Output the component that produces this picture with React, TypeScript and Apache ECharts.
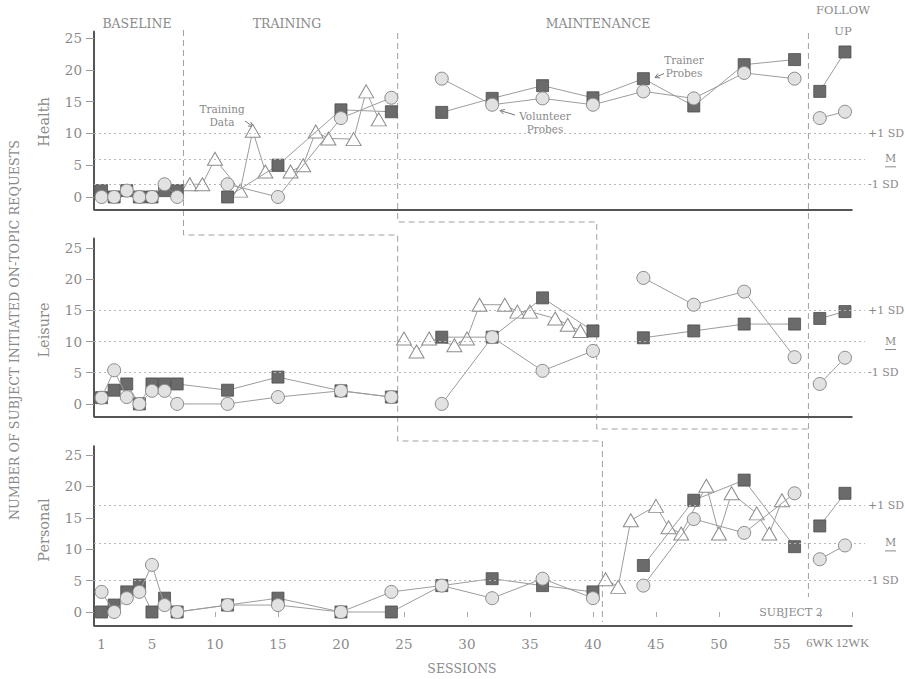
import React, { useEffect, useRef } from "react";
import * as echarts from "echarts";

// ---------------- data ----------------
const FU6 = 58; // 6-week follow-up position on the session axis
const FU12 = 60; // 12-week follow-up position
const FU12_TICK = 60.6;
const followSessions = [FU6, FU12];

const sessionTicks = [1, 5, 10, 15, 20, 25, 30, 35, 40, 45, 50, 55];
const followTickLabels = ["6WK", "12WK"];
const yTicks = [0, 5, 10, 15, 20, 25];
const sdLabels = ["+1 SD", "M", "-1 SD"];

// Health
const healthBaselineSessions = [1, 2, 3, 4, 5, 6, 7];
const healthBaselineTrainer = [1, 0, 1, 0, 0, 1, 1];
const healthBaselineVolunteer = [0, 0, 1, 0, 0, 2, 0];
const healthProbeSessions = [11, 15, 20, 24];
const healthProbeTrainer = [0, 5, 13.7, 13.4];
const healthProbeVolunteer = [2, 0, 12.4, 15.6];
const healthTrainingSessions = [8, 9, 10, 12, 13, 14, 16, 17, 18, 19, 21, 22, 23];
const healthTrainingData = [2, 2, 6, 1, 10.4, 4, 4, 5, 10.3, 9.2, 9.1, 16.6, 12.2];
const healthMaintSessions = [28, 32, 36, 40, 44, 48, 52, 56];
const healthMaintTrainer = [13.3, 15.5, 17.5, 15.6, 18.6, 14.3, 20.8, 21.6];
const healthMaintVolunteer = [18.6, 14.5, 15.5, 14.5, 16.6, 15.5, 19.5, 18.6];
const healthFollowTrainer = [16.6, 22.8];
const healthFollowVolunteer = [12.4, 13.4];
const healthSD = [10, 6, 2];

// Leisure
const leisureBaselineSessions = [1, 2, 3, 4, 5, 6, 7, 11, 15, 20, 24];
const leisureBaselineTrainer = [1, 2.2, 3.2, 0, 3.2, 3.2, 3.2, 2.2, 4.3, 2.1, 1.1];
const leisureBaselineVolunteer = [1, 5.4, 1.1, 0, 2.1, 2.1, 0, 0, 1.1, 2.1, 1.1];
const leisureProbeSessions = [28, 32, 36, 40];
const leisureProbeTrainer = [10.7, 10.7, 17, 11.7];
const leisureProbeVolunteer = [0, 10.7, 5.3, 8.5];
const leisureTrainingSessions = [25, 26, 27, 29, 30, 31, 33, 34, 35, 37, 38, 39];
const leisureTrainingData = [10.5, 8.4, 10.5, 9.4, 10.5, 15.9, 15.9, 14.8, 14.8, 13.7, 12.7, 11.7];
const leisureMaintSessions = [44, 48, 52, 56];
const leisureMaintTrainer = [10.6, 11.7, 12.8, 12.8];
const leisureMaintVolunteer = [20.2, 15.9, 18, 7.5];
const leisureFollowTrainer = [13.7, 14.8];
const leisureFollowVolunteer = [3.2, 7.4];
const leisureSD = [15, 10, 5];

// Personal
const personalBaselineSessions = [1, 2, 3, 4, 5, 6, 7, 11, 15, 20, 24, 28, 32, 36, 40];
const personalBaselineTrainer = [0, 1.1, 3.2, 4.3, 0, 2.2, 0, 1.1, 2.2, 0, 0, 4.2, 5.3, 4.2, 3.2];
const personalBaselineVolunteer = [3.2, 0, 2.2, 3.2, 7.5, 1.1, 0, 1.1, 1.1, 0, 3.2, 4.2, 2.2, 5.3, 2.2];
const personalProbeSessions = [44, 48, 52, 56];
const personalProbeTrainer = [7.4, 17.8, 21, 10.4];
const personalProbeVolunteer = [4.2, 14.8, 12.6, 18.9];
const personalTrainingSessions = [41, 42, 43, 45, 46, 47, 49, 50, 51, 53, 54, 55];
const personalTrainingData = [5.2, 4, 14.6, 16.9, 13.5, 12.5, 20.1, 12.5, 18.9, 15.7, 12.5, 17.8];
const personalFollowTrainer = [13.7, 18.9];
const personalFollowVolunteer = [8.4, 10.6];
const personalSD = [17, 11, 5];

// phase-change boundaries (in session units)
const B_BASE_TRAIN_H = 7.5;
const B_TRAIN_MAINT_H = 24.5;
const B_BASE_TRAIN_L = 24.5;
const B_TRAIN_MAINT_L = 40.3;
const B_BASE_TRAIN_P = 40.75;
const B_FOLLOW = 57.1;

// ---------------- layout / style ----------------
const FONT = '"DejaVu Serif", "Liberation Serif", serif';
const TEXT = "#8a8a8a";
const LINE = "#9c9c9c";
const X_MIN = 0.4;
const X_MAX = 61.59;
const AXIS_END = 60.6;
const GRID_LEFT = 94;
const GRID_WIDTH = 771;

const panels = [
  {
    name: "Health", top: 31.6, height: 178.1, ymin: -2, ymax: 26, sd: healthSD, labelY: 122,
    probePhases: [
      [healthBaselineSessions, healthBaselineTrainer, healthBaselineVolunteer],
      [healthProbeSessions, healthProbeTrainer, healthProbeVolunteer],
      [healthMaintSessions, healthMaintTrainer, healthMaintVolunteer],
      [followSessions, healthFollowTrainer, healthFollowVolunteer],
    ],
    training: [healthTrainingSessions, healthTrainingData],
  },
  {
    name: "Leisure", top: 238.6, height: 177.8, ymin: -2, ymax: 26.5, sd: leisureSD, labelY: 330,
    probePhases: [
      [leisureBaselineSessions, leisureBaselineTrainer, leisureBaselineVolunteer],
      [leisureProbeSessions, leisureProbeTrainer, leisureProbeVolunteer],
      [leisureMaintSessions, leisureMaintTrainer, leisureMaintVolunteer],
      [followSessions, leisureFollowTrainer, leisureFollowVolunteer],
    ],
    training: [leisureTrainingSessions, leisureTrainingData],
  },
  {
    name: "Personal", top: 446.2, height: 179.6, ymin: -2.2, ymax: 26.4, sd: personalSD, labelY: 530,
    probePhases: [
      [personalBaselineSessions, personalBaselineTrainer, personalBaselineVolunteer],
      [personalProbeSessions, personalProbeTrainer, personalProbeVolunteer],
      [followSessions, personalFollowTrainer, personalFollowVolunteer],
    ],
    training: [personalTrainingSessions, personalTrainingData],
  },
];

const squareStyle = {
  symbol: "rect", symbolSize: 12,
  itemStyle: { color: "#6b6b6b", borderColor: "#4d4d4d", borderWidth: 0.8 },
};
const circleStyle = {
  symbol: "circle", symbolSize: 13,
  itemStyle: { color: "#e2e2e2", borderColor: "#8a8a8a", borderWidth: 1 },
};
const triStyle = {
  symbol: "triangle", symbolSize: [15, 13],
  itemStyle: { color: "#ffffff", borderColor: "#8c8c8c", borderWidth: 1 },
};

function pairs(xs: number[], ys: number[]) {
  return xs.map((x, i) => [x, ys[i]]);
}

function lineSeries(gi: number, xs: number[], ys: number[], style: any, z: number, extra: any = {}) {
  return {
    type: "line", xAxisIndex: gi, yAxisIndex: gi, data: pairs(xs, ys),
    ...style, showSymbol: true, lineStyle: { color: LINE, width: 1 },
    z, silent: true, animation: false, emphasis: { disabled: true }, ...extra,
  };
}

function markLines(p: any) {
  const sdStyle = { color: "#b8b8b8", type: [2, 3], width: 1 };
  const lbl = (text: string, dist: number) => ({
    show: true, position: "end", formatter: text, color: TEXT, fontFamily: FONT, fontSize: 11, distance: dist,
  });
  return {
    silent: true, symbol: ["none", "none"], animation: false,
    data: [
      [{ coord: [X_MIN, p.ymin], lineStyle: { color: "#555", width: 2, type: "solid" }, label: { show: false } }, { coord: [AXIS_END, p.ymin] }],
      [{ coord: [X_MIN, p.sd[0]], lineStyle: sdStyle, label: lbl(sdLabels[0], 3) }, { coord: [X_MAX, p.sd[0]] }],
      [{ coord: [X_MIN, p.sd[1]], lineStyle: sdStyle, label: lbl(sdLabels[1], 20) }, { coord: [X_MAX, p.sd[1]] }],
      [{ coord: [X_MIN, p.sd[2]], lineStyle: sdStyle, label: lbl(sdLabels[2], 3) }, { coord: [X_MAX, p.sd[2]] }],
    ],
  };
}

function buildOption() {
  const grid: any[] = [];
  const xAxis: any[] = [];
  const yAxis: any[] = [];
  const series: any[] = [];

  panels.forEach((p, i) => {
    grid.push({ left: GRID_LEFT, width: GRID_WIDTH, top: p.top, height: p.height, outerBoundsMode: "none", containLabel: false });
    const isLast = i === panels.length - 1;
    xAxis.push({
      gridIndex: i, type: "value", min: X_MIN, max: X_MAX,
      axisLine: { show: false }, splitLine: { show: false },
      axisTick: {
        show: isLast, customValues: [...sessionTicks, FU6, FU12_TICK], length: 5,
        lineStyle: { color: "#aaa" },
      },
      axisLabel: {
        show: isLast, customValues: [...sessionTicks, FU6, FU12_TICK], margin: 11,
        color: TEXT, fontFamily: FONT, fontSize: 13.5,
        formatter: (v: number) =>
          v === FU6 ? `{wk|${followTickLabels[0]}}` : v === FU12_TICK ? `{wk|${followTickLabels[1]}}` : String(v),
        rich: { wk: { fontFamily: '"Liberation Serif", serif', fontSize: 12.5, color: TEXT } },
      },
    });
    yAxis.push({
      gridIndex: i, type: "value", min: p.ymin, max: p.ymax,
      splitLine: { show: false },
      axisLine: { show: true, lineStyle: { color: "#555", width: 2 } },
      axisTick: { show: true, customValues: yTicks, length: 8, lineStyle: { color: "#999" } },
      axisLabel: { customValues: yTicks, margin: 12, color: TEXT, fontFamily: FONT, fontSize: 13.5 },
    });

    // training data (triangles) carries the mark lines
    series.push(lineSeries(i, p.training[0] as number[], p.training[1] as number[], triStyle, 3, { markLine: markLines(p) }));
    p.probePhases.forEach((ph: any) => {
      series.push(lineSeries(i, ph[0], ph[1], squareStyle, 4));
    });
    p.probePhases.forEach((ph: any) => {
      series.push(lineSeries(i, ph[0], ph[2], circleStyle, 5));
    });
  });

  // overlay grid for phase-change lines (y in page pixels)
  const oi = panels.length;
  grid.push({ left: GRID_LEFT, width: GRID_WIDTH, top: 0, height: 679, outerBoundsMode: "none", containLabel: false });
  xAxis.push({ gridIndex: oi, type: "value", min: X_MIN, max: X_MAX, show: false });
  yAxis.push({ gridIndex: oi, type: "value", min: 0, max: 679, inverse: true, show: false });
  const dashed = { color: "#a0a0a0", width: 1, type: [6, 4] };
  const phaseLines = [
    [[B_BASE_TRAIN_H, 30], [B_BASE_TRAIN_H, 235], [B_BASE_TRAIN_L, 235], [B_BASE_TRAIN_L, 441], [B_BASE_TRAIN_P, 441], [B_BASE_TRAIN_P, 622]],
    [[B_TRAIN_MAINT_H, 33], [B_TRAIN_MAINT_H, 222], [B_TRAIN_MAINT_L, 222], [B_TRAIN_MAINT_L, 429], [B_FOLLOW, 429]],
    [[B_FOLLOW, 33], [B_FOLLOW, 597]],
  ];
  phaseLines.forEach((d) => {
    series.push({
      type: "line", xAxisIndex: oi, yAxisIndex: oi, data: d, symbol: "none",
      lineStyle: dashed, z: 1, silent: true, animation: false, clip: false,
    });
  });

  return {
    animation: false,
    backgroundColor: "#ffffff",
    textStyle: { fontFamily: FONT },
    grid, xAxis, yAxis, series,
  };
}

function txt(text: string, x: number, y: number, size: number, extra: any = {}) {
  const { style: extraStyle, ...rest } = extra;
  return {
    type: "text", x, y, silent: true, ...rest,
    style: {
      text, fill: TEXT, font: `${size}px ${FONT}`, textAlign: "center", textVerticalAlign: "middle",
      ...(extraStyle || {}),
    },
  };
}

function arrow(x1: number, y1: number, x2: number, y2: number) {
  const a = Math.atan2(y2 - y1, x2 - x1);
  const h = 5;
  const p1 = [x2 - h * Math.cos(a - 0.5), y2 - h * Math.sin(a - 0.5)];
  const p2 = [x2 - h * Math.cos(a + 0.5), y2 - h * Math.sin(a + 0.5)];
  return [
    { type: "line", silent: true, shape: { x1, y1, x2, y2 }, style: { stroke: "#777", lineWidth: 1 } },
    { type: "polyline", silent: true, shape: { points: [p1, [x2, y2], p2] }, style: { stroke: "#777", lineWidth: 1, fill: null } },
  ];
}

const staticGraphics: any[] = [
  txt("BASELINE", 137, 23, 12.5),
  txt("TRAINING", 287, 23, 12.5),
  txt("MAINTENANCE", 598, 23, 12.5),
  txt("FOLLOW\nUP", 843, 20, 11.5, { style: { lineHeight: 21 } }),
  txt("NUMBER OF SUBJECT INITIATED ON-TOPIC REQUESTS", 14, 330, 12.8, { rotation: Math.PI / 2 }),
  ...panels.map((p) => txt(p.name, 44, p.labelY, 14.5, { rotation: Math.PI / 2 })),
  txt("SESSIONS", 462, 668, 12.5),
  txt("SUBJECT 2", 791, 612, 11),
  txt("Training\nData", 222, 115, 10.5, { style: { lineHeight: 13 } }),
  ...arrow(245, 121, 253, 126.5),
  txt("Volunteer\nProbes", 545, 122, 10.5, { style: { lineHeight: 13 } }),
  ...arrow(515, 115, 500, 110.5),
  txt("Trainer\nProbes", 684, 66, 10.5, { style: { lineHeight: 13 } }),
  ...arrow(664, 73.5, 655, 77.5),
];

export default function App() {
  const ref = useRef<HTMLDivElement>(null);
  useEffect(() => {
    const chart = echarts.init(ref.current!, null, { renderer: "svg" });
    chart.setOption(buildOption() as any);
    const underlines = panels.map((p, i) => {
      const pt = chart.convertToPixel({ gridIndex: i } as any, [X_MAX, p.sd[1]]) as number[];
      const x = pt[0];
      const y = pt[1];
      return {
        type: "line", silent: true,
        shape: { x1: x + 20, y1: y + 8, x2: x + 31, y2: y + 8 },
        style: { stroke: TEXT, lineWidth: 1 },
      };
    });
    chart.setOption({ graphic: [...staticGraphics, ...underlines] } as any);
    return () => chart.dispose();
  }, []);
  return (
    <div
      ref={ref}
      style={{ position: "fixed", left: 0, top: 0, width: 905, height: 679, background: "#fff" }}
    />
  );
}
